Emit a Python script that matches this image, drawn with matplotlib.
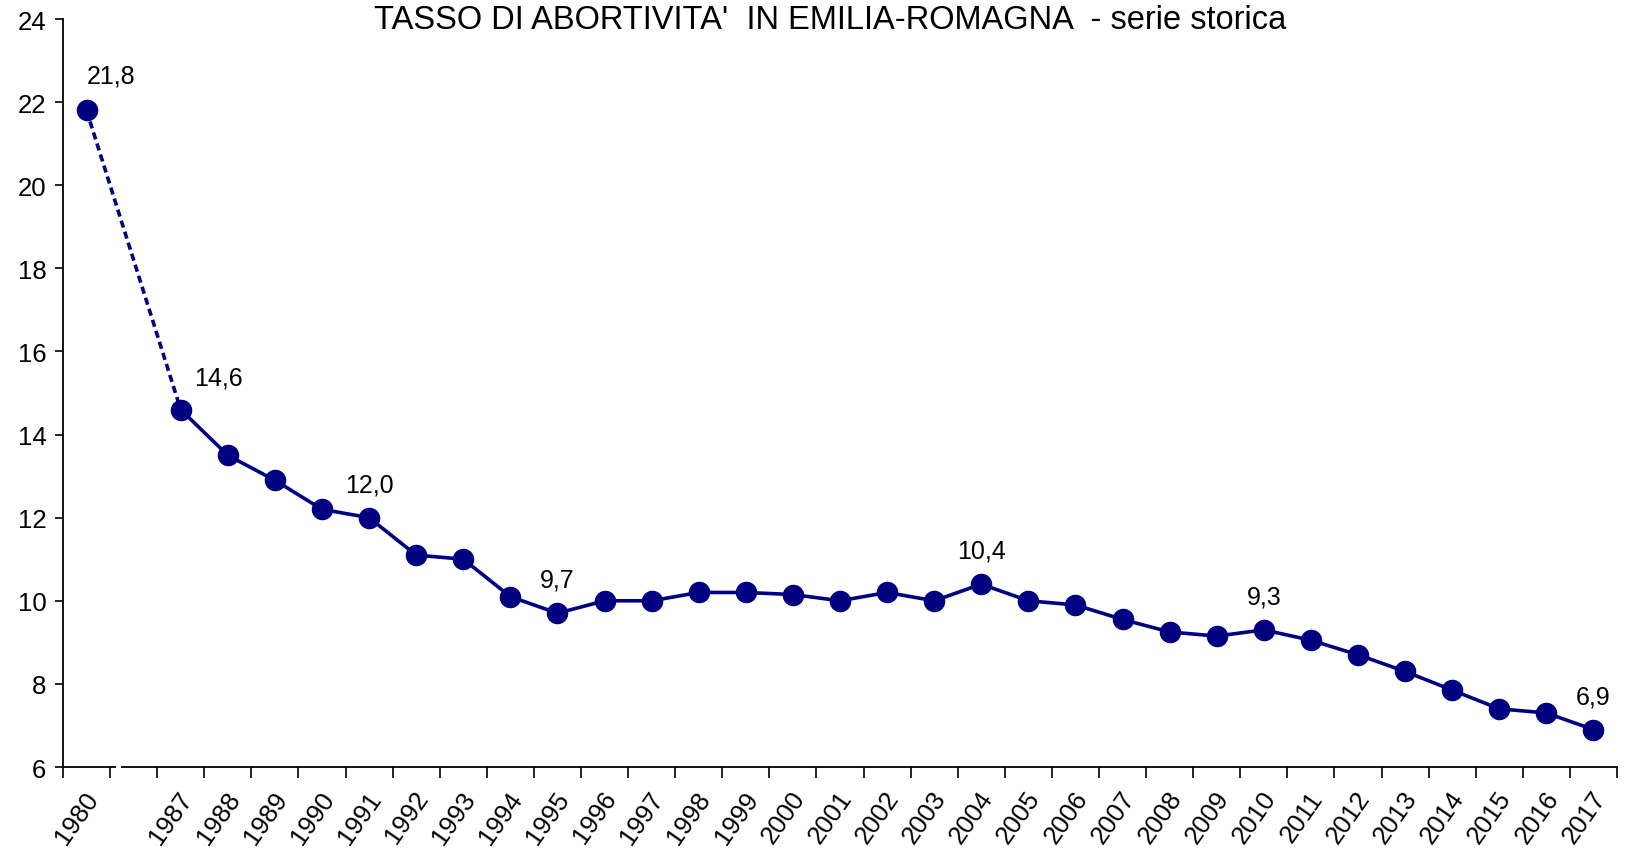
import numpy as np
import matplotlib
matplotlib.use("Agg")
import matplotlib.pyplot as plt
import matplotlib.transforms as mtransforms

plt.rcParams['font.family'] = ['Liberation Sans', 'DejaVu Sans']

# categories (one empty slot marks the 1981-1986 gap)
years = ['1980', ''] + [str(y) for y in range(1987, 2018)]
rates = [21.8, np.nan,
         14.6, 13.5, 12.9, 12.2, 12.0, 11.1, 11.0, 10.1, 9.7, 10.0,
         10.0, 10.2, 10.2, 10.15, 10.0, 10.2, 10.0, 10.4, 10.0, 9.9,
         9.55, 9.25, 9.15, 9.3, 9.05, 8.7, 8.3, 7.85, 7.4, 7.3,
         6.9]
labelled = ['1980', '1987', '1991', '1995', '2004', '2010', '2017']

title = "TASSO DI ABORTIVITA'  IN EMILIA-ROMAGNA  - serie storica"
navy = '#000080'

fig = plt.figure(figsize=(16.41, 8.53), dpi=100)
ax = fig.add_axes([63 / 1641, 1 - 768 / 853, 1554 / 1641, 748 / 853])

x = np.arange(len(years))
y = np.array(rates)

# dashed link across the gap
i0, i1 = years.index('1980'), years.index('1987')
ax.plot([x[i0], x[i1]], [y[i0], y[i1]], color=navy, lw=2.6,
        linestyle=(0, (2.0, 1.2)), zorder=2)
# solid series from 1987
ax.plot(x[i1:], y[i1:], color=navy, lw=2.6, zorder=2)
ax.plot(x, y, linestyle='none', marker='o', ms=14.5, color=navy, zorder=3)

# data labels
offsets = {'1980': (18, 25), '1987': (27, 23)}
for yr in labelled:
    i = years.index(yr)
    dx, dy = offsets.get(yr, (0, 24))
    ax.annotate(f"{y[i]:.1f}".replace('.', ','), (x[i], y[i]),
                xytext=(dx, dy), textcoords='offset points',
                ha='center', va='center', fontsize=18, color='black')

ax.set_xlim(-0.5, len(years) - 0.5)
ax.set_ylim(6, 24)
ax.set_yticks(np.arange(6, 25, 2))
ax.tick_params(axis='y', labelsize=18.5, length=6, width=1.2, direction='out', pad=6)

# ticks on category boundaries, labels at centres
ax.set_xticks(np.arange(-0.5, len(years), 1.0))
ax.set_xticklabels([])
ax.set_xticks(x, minor=True)
ax.set_xticklabels(years, minor=True, rotation=55, ha='right', va='center',
                   rotation_mode='anchor', fontsize=18.5)
ax.tick_params(axis='x', which='major', length=8, width=1.2, direction='out')
ax.tick_params(axis='x', which='minor', length=0, pad=19)
shift = mtransforms.ScaledTranslation(7 / 100, 0, fig.dpi_scale_trans)
for lbl in ax.get_xticklabels(minor=True):
    lbl.set_transform(lbl.get_transform() + shift)

for s in ['top', 'right']:
    ax.spines[s].set_visible(False)
for s in ['left', 'bottom']:
    ax.spines[s].set_linewidth(1.3)

# break in the x axis
trans = mtransforms.blended_transform_factory(ax.transData, ax.transAxes)
ax.plot([0.63, 0.74], [0, 0], transform=trans, color='white', lw=4,
        clip_on=False, zorder=10, solid_capstyle='butt')

fig.text(830 / 1641, 1 - 29 / 853, title, ha='center', va='baseline', fontsize=23.5)

fig.savefig('out.png', dpi=100)
